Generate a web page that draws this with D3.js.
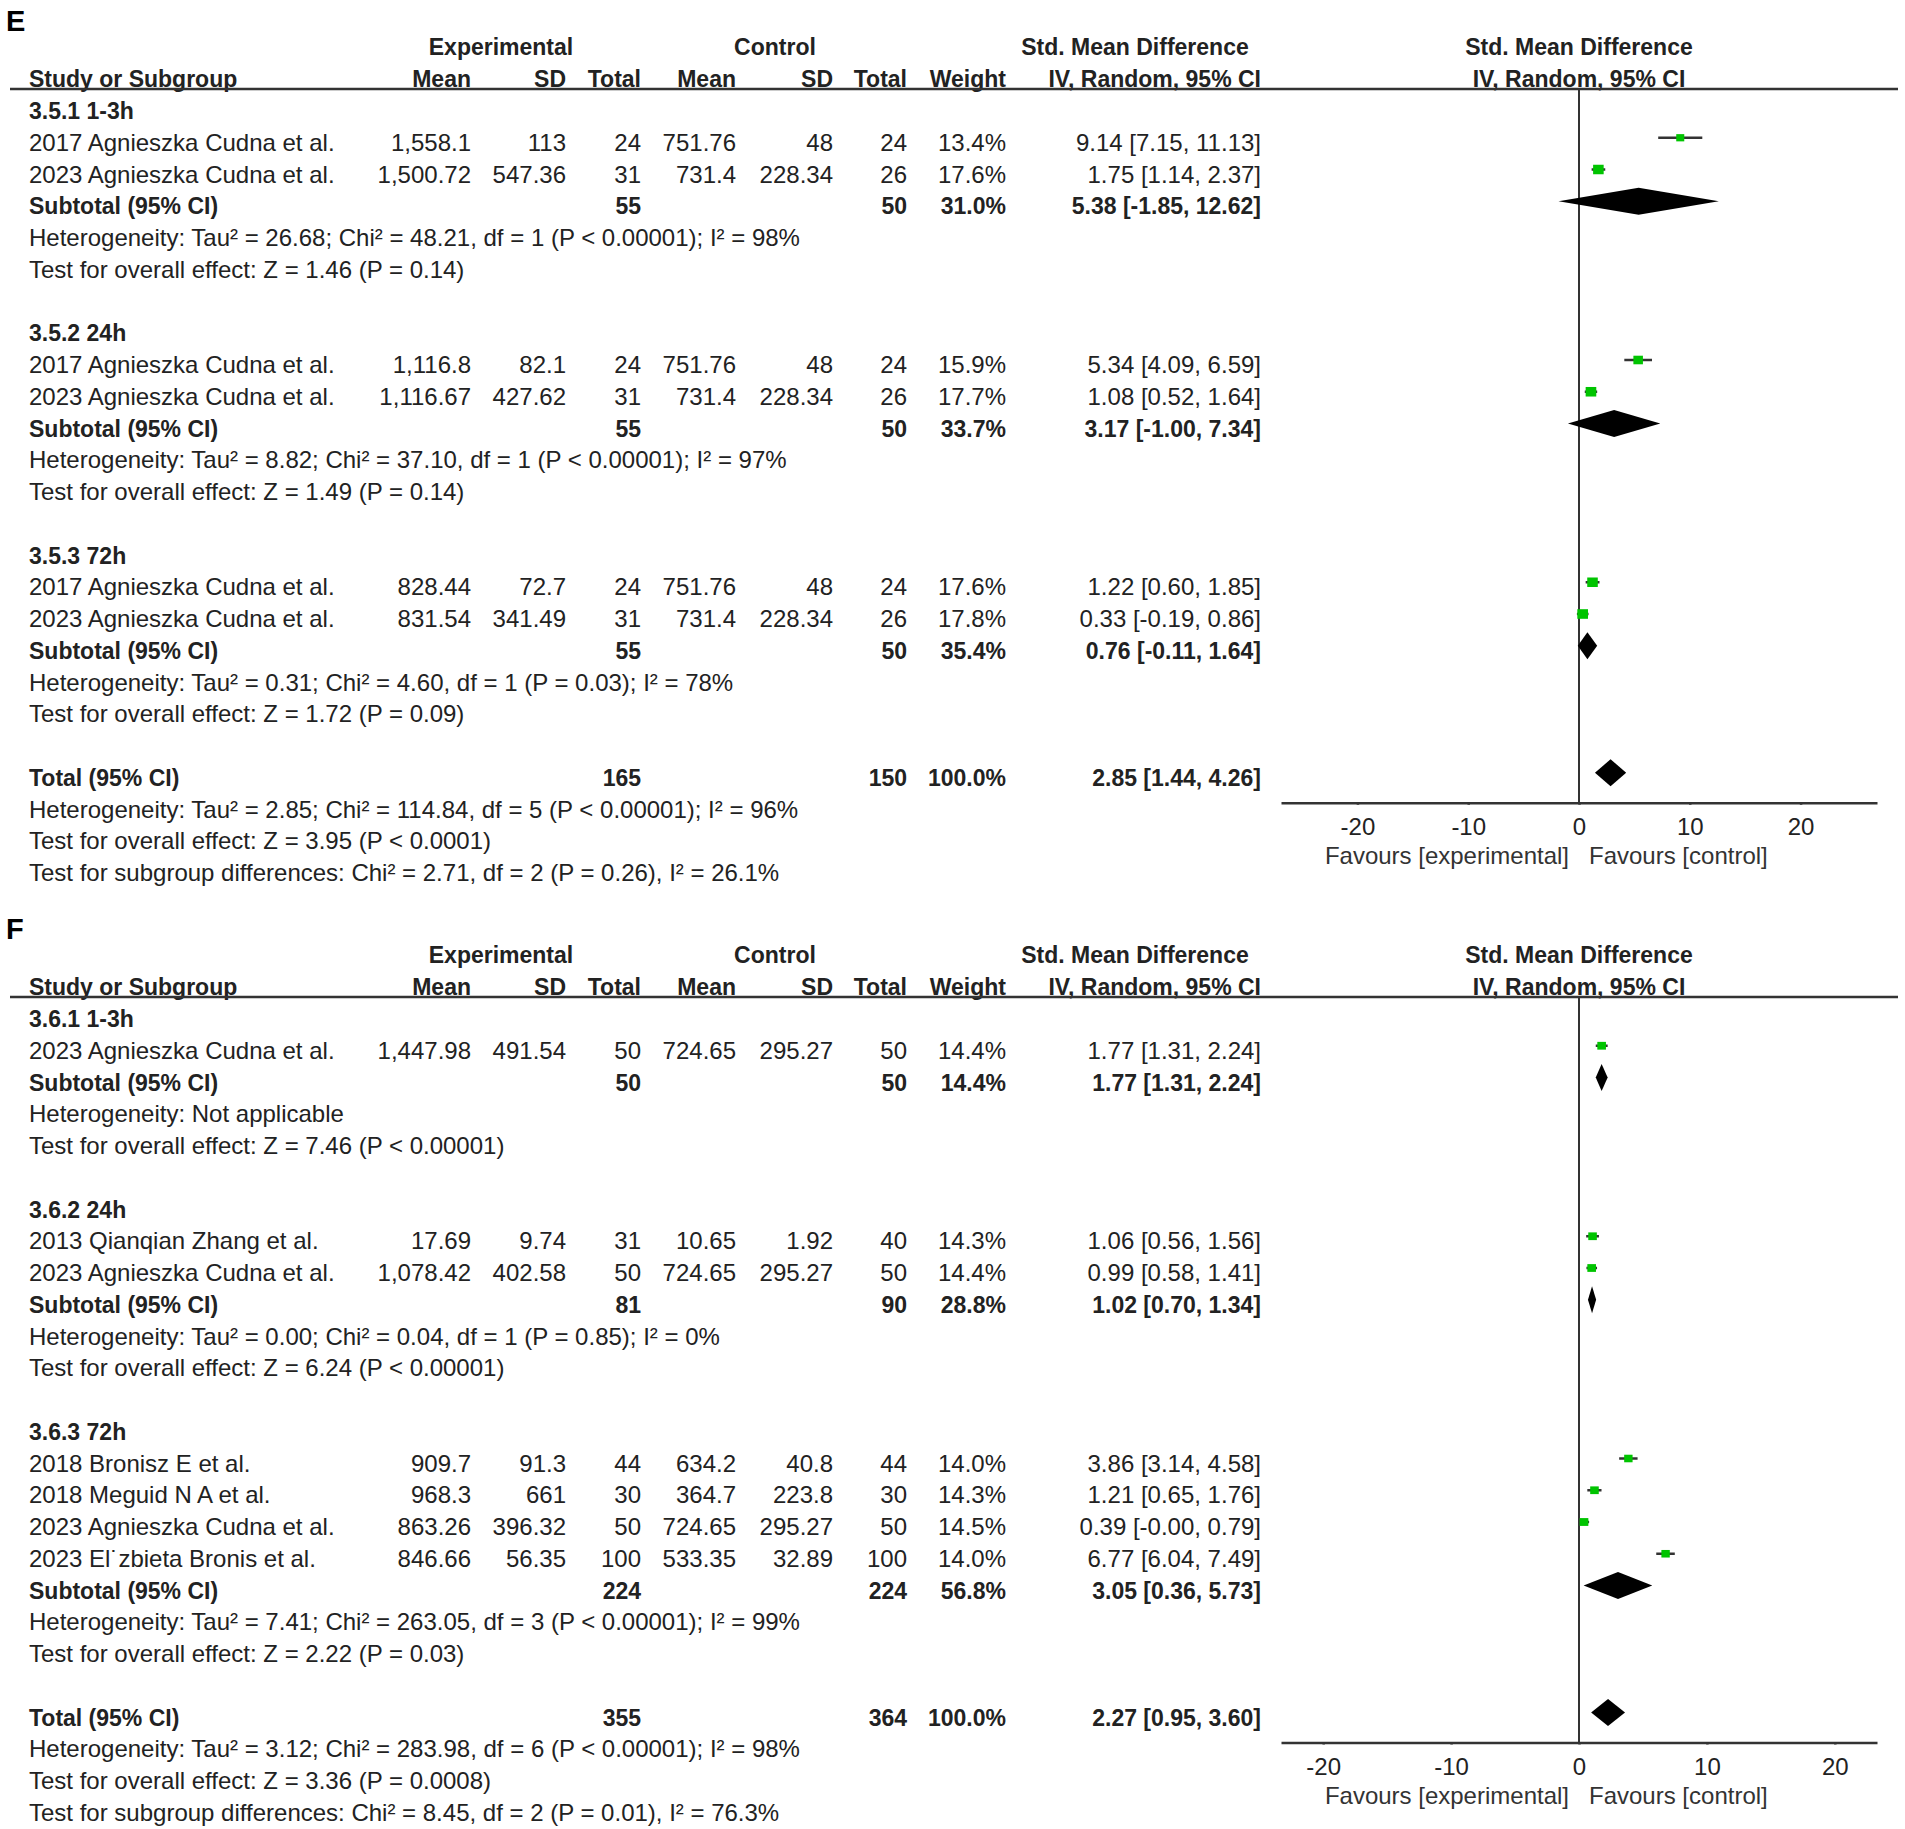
<!DOCTYPE html>
<html>
<head>
<meta charset="utf-8">
<script src="https://cdn.jsdelivr.net/npm/d3@7"></script>
<style>
  body { margin: 0; background: #fff; }
  text { font-family: "Liberation Sans", Arial, sans-serif; font-size: 24px; fill: #222; }
  .b { font-weight: bold; font-size: 23px; }
</style>
</head>
<body>
<script>
// ---------- panel E data ----------
var eGroups = ["3.5.1 1-3h", "3.5.2 24h", "3.5.3 72h"];
var eStudies = [
  {g: 0, name: "2017 Agnieszka Cudna et al.", em: 1558.1,  esd: 113,    en: 24, cm: 751.76, csd: 48,     cn: 24, w: 13.4, smd: 9.14, lo: 7.15,  hi: 11.13},
  {g: 0, name: "2023 Agnieszka Cudna et al.", em: 1500.72, esd: 547.36, en: 31, cm: 731.4,  csd: 228.34, cn: 26, w: 17.6, smd: 1.75, lo: 1.14,  hi: 2.37},
  {g: 1, name: "2017 Agnieszka Cudna et al.", em: 1116.8,  esd: 82.1,   en: 24, cm: 751.76, csd: 48,     cn: 24, w: 15.9, smd: 5.34, lo: 4.09,  hi: 6.59},
  {g: 1, name: "2023 Agnieszka Cudna et al.", em: 1116.67, esd: 427.62, en: 31, cm: 731.4,  csd: 228.34, cn: 26, w: 17.7, smd: 1.08, lo: 0.52,  hi: 1.64},
  {g: 2, name: "2017 Agnieszka Cudna et al.", em: 828.44,  esd: 72.7,   en: 24, cm: 751.76, csd: 48,     cn: 24, w: 17.6, smd: 1.22, lo: 0.60,  hi: 1.85},
  {g: 2, name: "2023 Agnieszka Cudna et al.", em: 831.54,  esd: 341.49, en: 31, cm: 731.4,  csd: 228.34, cn: 26, w: 17.8, smd: 0.33, lo: -0.19, hi: 0.86}
];
var eSubtotals = [
  {en: 55, cn: 50, w: 31.0, smd: 5.38, lo: -1.85, hi: 12.62},
  {en: 55, cn: 50, w: 33.7, smd: 3.17, lo: -1.00, hi: 7.34},
  {en: 55, cn: 50, w: 35.4, smd: 0.76, lo: -0.11, hi: 1.64}
];
var eSubNotes = [
  ["Heterogeneity: Tau\u00b2 = 26.68; Chi\u00b2 = 48.21, df = 1 (P < 0.00001); I\u00b2 = 98%", "Test for overall effect: Z = 1.46 (P = 0.14)"],
  ["Heterogeneity: Tau\u00b2 = 8.82; Chi\u00b2 = 37.10, df = 1 (P < 0.00001); I\u00b2 = 97%", "Test for overall effect: Z = 1.49 (P = 0.14)"],
  ["Heterogeneity: Tau\u00b2 = 0.31; Chi\u00b2 = 4.60, df = 1 (P = 0.03); I\u00b2 = 78%", "Test for overall effect: Z = 1.72 (P = 0.09)"]
];
var eTotal = {en: 165, cn: 150, w: 100.0, smd: 2.85, lo: 1.44, hi: 4.26};
var eTotalNotes = [
  "Heterogeneity: Tau\u00b2 = 2.85; Chi\u00b2 = 114.84, df = 5 (P < 0.00001); I\u00b2 = 96%",
  "Test for overall effect: Z = 3.95 (P < 0.0001)",
  "Test for subgroup differences: Chi\u00b2 = 2.71, df = 2 (P = 0.26), I\u00b2 = 26.1%"
];

// ---------- panel F data ----------
var fGroups = ["3.6.1 1-3h", "3.6.2 24h", "3.6.3 72h"];
var fStudies = [
  {g: 0, name: "2023 Agnieszka Cudna et al.", em: 1447.98, esd: 491.54, en: 50,  cm: 724.65, csd: 295.27, cn: 50,  w: 14.4, smd: 1.77, lo: 1.31,   hi: 2.24},
  {g: 1, name: "2013 Qianqian Zhang et al.",  em: 17.69,   esd: 9.74,   en: 31,  cm: 10.65,  csd: 1.92,   cn: 40,  w: 14.3, smd: 1.06, lo: 0.56,   hi: 1.56},
  {g: 1, name: "2023 Agnieszka Cudna et al.", em: 1078.42, esd: 402.58, en: 50,  cm: 724.65, csd: 295.27, cn: 50,  w: 14.4, smd: 0.99, lo: 0.58,   hi: 1.41},
  {g: 2, name: "2018 Bronisz E et al.",       em: 909.7,   esd: 91.3,   en: 44,  cm: 634.2,  csd: 40.8,   cn: 44,  w: 14.0, smd: 3.86, lo: 3.14,   hi: 4.58},
  {g: 2, name: "2018 Meguid N A et al.",      em: 968.3,   esd: 661,    en: 30,  cm: 364.7,  csd: 223.8,  cn: 30,  w: 14.3, smd: 1.21, lo: 0.65,   hi: 1.76},
  {g: 2, name: "2023 Agnieszka Cudna et al.", em: 863.26,  esd: 396.32, en: 50,  cm: 724.65, csd: 295.27, cn: 50,  w: 14.5, smd: 0.39, lo: -0.004, hi: 0.79},
  {g: 2, name: "2023 El\u02d9zbieta Bronis et al.", em: 846.66, esd: 56.35, en: 100, cm: 533.35, csd: 32.89, cn: 100, w: 14.0, smd: 6.77, lo: 6.04, hi: 7.49}
];
var fSubtotals = [
  {en: 50,  cn: 50,  w: 14.4, smd: 1.77, lo: 1.31, hi: 2.24},
  {en: 81,  cn: 90,  w: 28.8, smd: 1.02, lo: 0.70, hi: 1.34},
  {en: 224, cn: 224, w: 56.8, smd: 3.05, lo: 0.36, hi: 5.73}
];
var fSubNotes = [
  ["Heterogeneity: Not applicable", "Test for overall effect: Z = 7.46 (P < 0.00001)"],
  ["Heterogeneity: Tau\u00b2 = 0.00; Chi\u00b2 = 0.04, df = 1 (P = 0.85); I\u00b2 = 0%", "Test for overall effect: Z = 6.24 (P < 0.00001)"],
  ["Heterogeneity: Tau\u00b2 = 7.41; Chi\u00b2 = 263.05, df = 3 (P < 0.00001); I\u00b2 = 99%", "Test for overall effect: Z = 2.22 (P = 0.03)"]
];
var fTotal = {en: 355, cn: 364, w: 100.0, smd: 2.27, lo: 0.95, hi: 3.60};
var fTotalNotes = [
  "Heterogeneity: Tau\u00b2 = 3.12; Chi\u00b2 = 283.98, df = 6 (P < 0.00001); I\u00b2 = 98%",
  "Test for overall effect: Z = 3.36 (P = 0.0008)",
  "Test for subgroup differences: Chi\u00b2 = 8.45, df = 2 (P = 0.01), I\u00b2 = 76.3%"
];

var axisTicks = [-20, -10, 0, 10, 20];

// ---------- layout ----------
var W = 1905, H = 1829;
var rowH = 31.75;
var plotLeft = 1281, plotRight = 1877;

var fmtNum = d3.format(",");
function f2(v) { return (v < 0 ? "-" : "") + Math.abs(v).toFixed(2); }
function ciText(d) { return f2(d.smd) + " [" + f2(d.lo) + ", " + f2(d.hi) + "]"; }
function wText(d) { return d.w.toFixed(1) + "%"; }

// right-aligned columns
var cols = [
  {x: 471,  head: "Mean",  val: function(d) { return fmtNum(d.em); }, sub: false},
  {x: 566,  head: "SD",    val: function(d) { return fmtNum(d.esd); }, sub: false},
  {x: 641,  head: "Total", val: function(d) { return d.en; }, sub: true},
  {x: 736,  head: "Mean",  val: function(d) { return fmtNum(d.cm); }, sub: false},
  {x: 833,  head: "SD",    val: function(d) { return fmtNum(d.csd); }, sub: false},
  {x: 907,  head: "Total", val: function(d) { return d.cn; }, sub: true},
  {x: 1006, head: "Weight", val: wText, sub: true},
  {x: 1261, head: "IV, Random, 95% CI", val: ciText, sub: true}
];

var wScale = d3.scaleLinear().domain([0, 20]).range([0, 12]);

var svg = d3.select("body").append("svg")
  .attr("width", W).attr("height", H)
  .style("display", "block");

function drawPanel(p) {
  var g = svg.append("g");
  var x = d3.scaleLinear().domain([-p.extent, p.extent]).range([plotLeft, plotRight]);

  // build row list
  var rows = [];
  p.groups.forEach(function(label, gi) {
    rows.push({kind: "group", text: label});
    p.studies.filter(function(s) { return s.g === gi; }).forEach(function(s) {
      rows.push({kind: "study", d: s});
    });
    rows.push({kind: "sub", d: p.subtotals[gi]});
    p.subNotes[gi].forEach(function(t) { rows.push({kind: "note", text: t}); });
    rows.push({kind: "blank"});
  });
  rows.push({kind: "total", d: p.total});
  p.totalNotes.forEach(function(t) { rows.push({kind: "note", text: t}); });
  rows.forEach(function(r, i) { r.y = p.top + i * rowH; });

  var lineY = p.top - 20;
  var totalRow = rows.filter(function(r) { return r.kind === "total"; })[0];
  var axisY = totalRow.y + 27;
  var zx = x(0);

  // panel letter
  g.append("text").attr("class", "b").attr("x", 6).attr("y", p.top - 78)
    .style("font-size", "29px").style("fill", "#000").text(p.letter);

  // headers
  var h1 = p.top - 54, h2 = p.top - 22;
  g.append("text").attr("class", "b").attr("x", 501).attr("y", h1).attr("text-anchor", "middle").text("Experimental");
  g.append("text").attr("class", "b").attr("x", 775).attr("y", h1).attr("text-anchor", "middle").text("Control");
  g.append("text").attr("class", "b").attr("x", 1135).attr("y", h1).attr("text-anchor", "middle").text("Std. Mean Difference");
  g.append("text").attr("class", "b").attr("x", zx).attr("y", h1).attr("text-anchor", "middle").text("Std. Mean Difference");
  g.append("text").attr("class", "b").attr("x", 29).attr("y", h2).text("Study or Subgroup");
  g.selectAll("text.hcol").data(cols).enter().append("text")
    .attr("class", "b hcol").attr("x", function(c) { return c.x; }).attr("y", h2)
    .attr("text-anchor", "end").text(function(c) { return c.head; });
  g.append("text").attr("class", "b").attr("x", zx).attr("y", h2).attr("text-anchor", "middle").text("IV, Random, 95% CI");

  g.append("line").attr("x1", 10).attr("x2", 1898).attr("y1", lineY).attr("y2", lineY)
    .attr("stroke", "#333").attr("stroke-width", 2.5);

  // zero line
  g.append("line").attr("x1", zx).attr("x2", zx).attr("y1", lineY).attr("y2", axisY)
    .attr("stroke", "#333").attr("stroke-width", 2);

  // table text
  rows.forEach(function(r) {
    var ty = r.y + 10;
    if (r.kind === "group") {
      g.append("text").attr("class", "b").attr("x", 29).attr("y", ty).text(r.text);
    } else if (r.kind === "note") {
      g.append("text").attr("x", 29).attr("y", ty).text(r.text);
    } else if (r.kind === "study") {
      g.append("text").attr("x", 29).attr("y", ty).text(r.d.name);
      cols.forEach(function(c) {
        g.append("text").attr("x", c.x).attr("y", ty).attr("text-anchor", "end").text(c.val(r.d));
      });
    } else if (r.kind === "sub" || r.kind === "total") {
      g.append("text").attr("class", "b").attr("x", 29).attr("y", ty)
        .text(r.kind === "sub" ? "Subtotal (95% CI)" : "Total (95% CI)");
      cols.filter(function(c) { return c.sub; }).forEach(function(c) {
        g.append("text").attr("class", "b").attr("x", c.x).attr("y", ty).attr("text-anchor", "end").text(c.val(r.d));
      });
    }
  });

  // study marks
  var studyRows = rows.filter(function(r) { return r.kind === "study"; });
  g.selectAll("line.ci").data(studyRows).enter().append("line")
    .attr("class", "ci")
    .attr("x1", function(r) { return x(r.d.lo); })
    .attr("x2", function(r) { return x(r.d.hi); })
    .attr("y1", function(r) { return r.y - 3; })
    .attr("y2", function(r) { return r.y - 3; })
    .attr("stroke", "#333").attr("stroke-width", 2.5);
  g.selectAll("rect.sq").data(studyRows).enter().append("rect")
    .attr("class", "sq")
    .attr("x", function(r) { return x(r.d.smd) - wScale(r.d.w) / 2; })
    .attr("y", function(r) { return r.y - 3 - wScale(r.d.w) * 0.45; })
    .attr("width", function(r) { return wScale(r.d.w); })
    .attr("height", function(r) { return wScale(r.d.w) * 0.9; })
    .attr("fill", "#00c400");

  // diamonds
  var dRows = rows.filter(function(r) { return r.kind === "sub" || r.kind === "total"; });
  g.selectAll("path.dia").data(dRows).enter().append("path")
    .attr("class", "dia")
    .attr("d", function(r) {
      var cy = r.y - 3, hh = 13.5;
      return "M" + x(r.d.lo) + "," + cy + "L" + x(r.d.smd) + "," + (cy - hh) +
             "L" + x(r.d.hi) + "," + cy + "L" + x(r.d.smd) + "," + (cy + hh) + "Z";
    })
    .attr("fill", "#000");

  // axis
  var ax = g.append("g").attr("transform", "translate(0," + axisY + ")")
    .call(d3.axisBottom(x).tickValues(axisTicks).tickSizeInner(-9).tickSizeOuter(0)
      .tickPadding(15).tickFormat(function(d) { return String(d); }));
  ax.select(".domain").attr("stroke", "#333").attr("stroke-width", 2.5);
  ax.selectAll(".tick line").attr("stroke", "#333").attr("stroke-width", 2.5).attr("y2", 2);
  ax.selectAll(".tick text").attr("fill", null)
    .style("font-family", "'Liberation Sans', Arial, sans-serif").style("font-size", "24px");
  ax.attr("font-family", null).attr("font-size", null);

  g.append("text").attr("x", zx - 10).attr("y", axisY + 61).attr("text-anchor", "end")
    .style("fill", "#333").text("Favours [experimental]");
  g.append("text").attr("x", zx + 10).attr("y", axisY + 61)
    .style("fill", "#333").text("Favours [control]");
}

drawPanel({letter: "E", top: 109, extent: 26.9, groups: eGroups, studies: eStudies,
  subtotals: eSubtotals, subNotes: eSubNotes, total: eTotal, totalNotes: eTotalNotes});
drawPanel({letter: "F", top: 1017, extent: 23.3, groups: fGroups, studies: fStudies,
  subtotals: fSubtotals, subNotes: fSubNotes, total: fTotal, totalNotes: fTotalNotes});
</script>
</body>
</html>
